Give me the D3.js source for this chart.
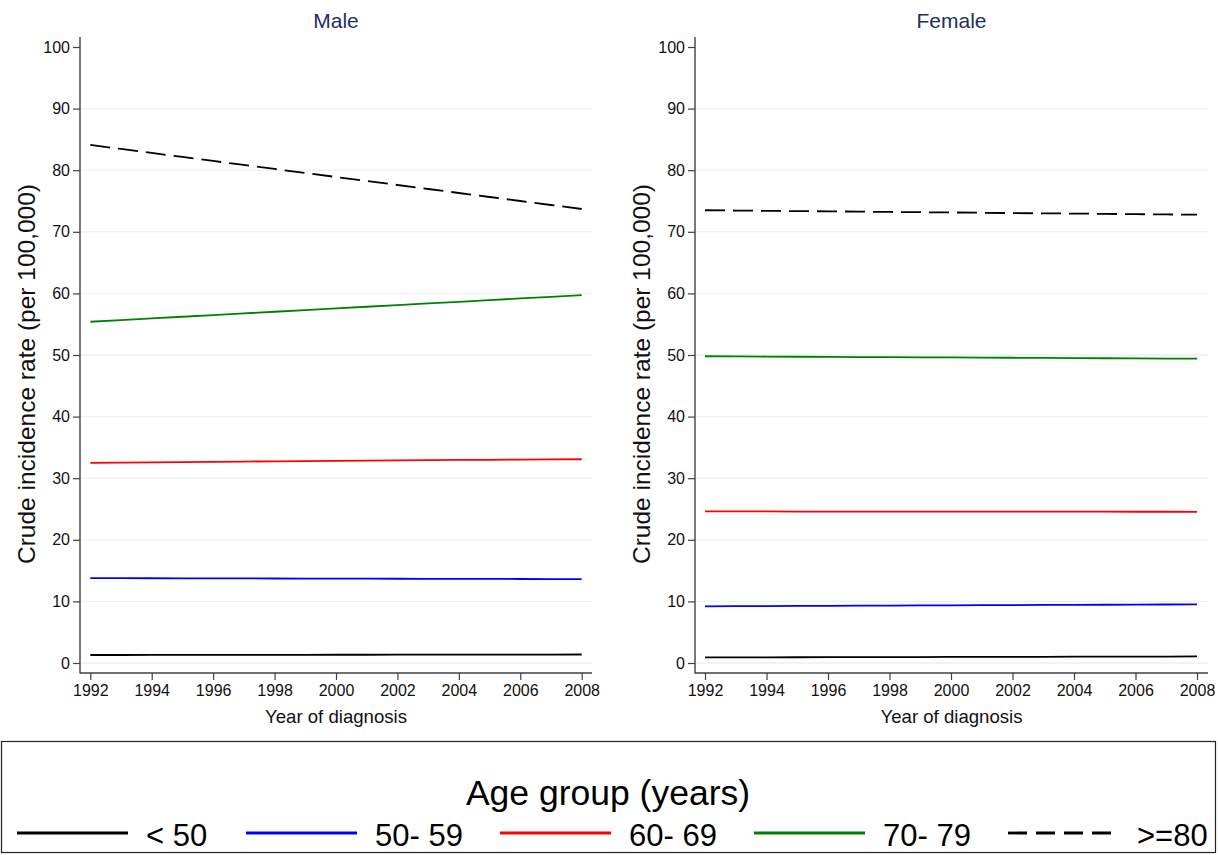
<!DOCTYPE html>
<html><head><meta charset="utf-8">
<script src="https://cdn.jsdelivr.net/npm/d3@7"></script>
<style>
body{margin:0;background:#fff;}
text{font-family:"Liberation Sans",Arial,sans-serif;}
</style></head>
<body>
<svg id="chart" width="1218" height="855"></svg>
<script>
const years = [1992,1993,1994,1995,1996,1997,1998,1999,2000,2001,2002,2003,2004,2005,2006,2007,2008];
const xTicks = [1992,1994,1996,1998,2000,2002,2004,2006,2008];
const yTicks = [0,10,20,30,40,50,60,70,80,90,100];
const groups = ["< 50","50- 59","60- 69","70- 79",">=80"];
const panels = ["Male","Female"];

const male_lt50   = [1.30,1.30,1.31,1.31,1.32,1.32,1.33,1.33,1.34,1.34,1.35,1.35,1.36,1.36,1.37,1.37,1.38];
const male_50_59  = [13.78,13.77,13.76,13.75,13.74,13.73,13.72,13.71,13.70,13.69,13.68,13.67,13.66,13.65,13.64,13.63,13.62];
const male_60_69  = [32.50,32.54,32.58,32.62,32.66,32.70,32.74,32.78,32.82,32.86,32.90,32.93,32.96,32.99,33.02,33.05,33.08];
const male_70_79  = [55.40,55.67,55.94,56.21,56.48,56.75,57.02,57.29,57.56,57.83,58.10,58.37,58.64,58.91,59.18,59.45,59.72];
const male_ge80   = [84.10,83.45,82.80,82.15,81.50,80.85,80.20,79.55,78.90,78.25,77.60,76.95,76.30,75.65,75.00,74.35,73.70];

const female_lt50  = [0.90,0.91,0.92,0.93,0.94,0.95,0.96,0.97,0.98,0.99,1.00,1.01,1.02,1.03,1.04,1.05,1.06];
const female_50_59 = [9.20,9.22,9.24,9.26,9.28,9.30,9.32,9.34,9.36,9.38,9.40,9.42,9.44,9.46,9.48,9.50,9.52];
const female_60_69 = [24.60,24.60,24.60,24.59,24.59,24.59,24.58,24.58,24.58,24.57,24.57,24.57,24.56,24.56,24.55,24.55,24.54];
const female_70_79 = [49.80,49.77,49.75,49.72,49.70,49.67,49.65,49.62,49.60,49.57,49.55,49.52,49.50,49.47,49.45,49.42,49.40];
const female_ge80  = [73.50,73.45,73.40,73.36,73.32,73.27,73.22,73.18,73.14,73.09,73.04,73.00,72.96,72.91,72.86,72.82,72.78];

const seriesByPanel = {
  Male:   [male_lt50, male_50_59, male_60_69, male_70_79, male_ge80],
  Female: [female_lt50, female_50_59, female_60_69, female_70_79, female_ge80]
};
const colors = ["#000000","#0000ff","#ff0000","#008000","#000000"];
const dashes = [null,null,null,null,"20,8"];

const svg = d3.select("#chart");
const axisColor = "#404040";
const gridColor = "#eaf2f3";

const layout = {
  Male:   {axisX:80,  x0:90.3, x1:581.7, xEnd:592, titleX:26},
  Female: {axisX:695, x0:705,  x1:1197,  xEnd:1208, titleX:641}
};
const yTop = 37, yBottom = 673;
const y = d3.scaleLinear().domain([0,100]).range([663,47]);

panels.forEach(p => {
  const L = layout[p];
  const x = d3.scaleLinear().domain([1992,2008]).range([L.x0, L.x1]);
  const g = svg.append("g");

  g.selectAll(".grid").data(yTicks.filter(t => t < 100)).enter().append("line")
    .attr("x1", L.axisX+1).attr("x2", L.xEnd)
    .attr("y1", d => y(d)).attr("y2", d => y(d))
    .attr("stroke", gridColor).attr("stroke-width", 1.3);

  const ya = g.append("g").attr("transform", `translate(${L.axisX},0)`)
    .call(d3.axisLeft(y).tickValues(yTicks).tickSize(7).tickPadding(3));
  ya.attr("font-size", 16).attr("font-family","Liberation Sans, Arial, sans-serif");
  ya.select(".domain").remove();
  ya.selectAll("line").attr("stroke", axisColor).attr("stroke-width",1.2);
  ya.selectAll("text").attr("fill","#111");

  const xa = g.append("g").attr("transform", `translate(0,${yBottom})`)
    .call(d3.axisBottom(x).tickValues(xTicks).tickFormat(d3.format("d")).tickSize(7).tickPadding(5));
  xa.attr("font-size", 16).attr("font-family","Liberation Sans, Arial, sans-serif");
  xa.select(".domain").remove();
  xa.selectAll("line").attr("stroke", axisColor).attr("stroke-width",1.2);
  xa.selectAll("text").attr("fill","#111");

  g.append("line").attr("x1",L.axisX).attr("x2",L.axisX).attr("y1",yTop).attr("y2",yBottom+0.6)
    .attr("stroke",axisColor).attr("stroke-width",1.4);
  g.append("line").attr("x1",L.axisX).attr("x2",L.xEnd).attr("y1",yBottom).attr("y2",yBottom)
    .attr("stroke",axisColor).attr("stroke-width",1.4);

  g.append("text").attr("x",(L.axisX+L.xEnd)/2).attr("y",28).attr("text-anchor","middle")
    .attr("font-size",21).attr("fill","#1e2f5e").text(p);
  g.append("text").attr("x",(L.axisX+L.xEnd)/2).attr("y",723).attr("text-anchor","middle")
    .attr("font-size",18.6).attr("fill","#111").text("Year of diagnosis");
  g.append("text").attr("transform",`translate(${L.titleX+8.5},374) rotate(-90)`)
    .attr("text-anchor","middle").attr("font-size",24.5).attr("fill","#111")
    .text("Crude incidence rate (per 100,000)");

  const line = d3.line().x((d,i) => x(years[i])).y(d => y(d));
  seriesByPanel[p].forEach((s, k) => {
    g.append("path").datum(s).attr("d", line).attr("fill","none")
      .attr("stroke", colors[k]).attr("stroke-width", 1.8)
      .attr("stroke-dasharray", dashes[k]);
  });
});

const lg = svg.append("g");
lg.append("rect").attr("x",1.5).attr("y",741.5).attr("width",1214).attr("height",111)
  .attr("fill","#fff").attr("stroke","#222").attr("stroke-width",1.2);
lg.append("text").attr("x",608).attr("y",805).attr("text-anchor","middle")
  .attr("font-size",35.5).attr("fill","#000").text("Age group (years)");
const itemX = [17, 246, 500, 754, 1008];
groups.forEach((name, k) => {
  const x0 = itemX[k];
  lg.append("line").attr("x1",x0).attr("x2",x0+111).attr("y1",833).attr("y2",833)
    .attr("stroke",colors[k]).attr("stroke-width",2.8)
    .attr("stroke-dasharray", k===4 ? "19,9" : null);
  lg.append("text").attr("x",x0+129).attr("y",846).attr("font-size",31)
    .attr("fill","#000").text(name);
});
</script>
</body></html>
